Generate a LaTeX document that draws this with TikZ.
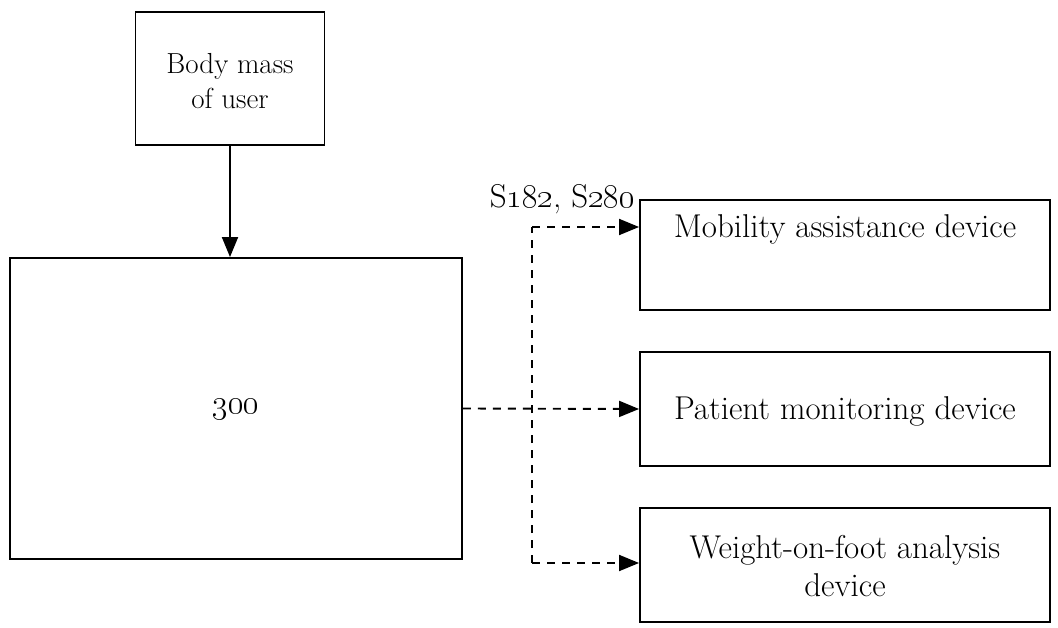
\RequirePackage{fix-cm}
\documentclass[tikz,border=0pt]{standalone}
\usetikzlibrary{arrows.meta}
\begin{document}
\begin{tikzpicture}[x=1pt,y=-1pt,
  box/.style={draw=black, line width=1.9pt, rectangle, inner sep=0pt},
  txt/.style={font=\fontsize{33}{38}\selectfont, align=center, inner sep=0pt},
  smalltxt/.style={font=\fontsize{29}{35}\selectfont, align=center, inner sep=0pt},
  solidarrow/.style={line width=1.9pt, -{Triangle[length=20pt,width=16pt]}},
  dashline/.style={line width=1.9pt, dash pattern=on 8pt off 7pt},
  dasharrow/.style={dashline, -{Triangle[length=20pt,width=16pt]}}]
\useasboundingbox (0,0) rectangle (1058,628);
% boxes
\node[box, minimum width=189pt, minimum height=133pt] (body) at (230,78.5) {};
\node[smalltxt] (bodyt) at (230,81) {Body mass\\of user};
\node[box, minimum width=452pt, minimum height=301pt] (main) at (236,408.5) {};
\node[txt] (maint) at (236,410) {\oldstylenums{300}};
\node[box, minimum width=410pt, minimum height=110pt] (mob) at (845,255) {};
\node[txt] (mobt) at (845,229) {Mobility assistance device};
\node[box, minimum width=410pt, minimum height=114pt] (pat) at (845,409) {};
\node[txt] (patt) at (845,411) {Patient monitoring device};
\node[box, minimum width=410pt, minimum height=114pt] (wt) at (845,565) {};
\node[txt] (wtt) at (845,566) {Weight-on-foot analysis\\device};
\node[txt, anchor=base east] (lab) at (635,208) {S\oldstylenums{182}, S\oldstylenums{280}};
% connectors
\coordinate (j1) at (532,227);
\coordinate (j2) at (532,563);
\draw[solidarrow] (body.south) -- (body.south |- main.north);
\draw[dasharrow] (main.east) -- (pat.west);
\draw[dashline] (j2) -- (j1);
\draw[dasharrow] (j1) -- (mob.west |- j1);
\draw[dasharrow] (j2) -- (wt.west |- j2);
\end{tikzpicture}
\end{document}
